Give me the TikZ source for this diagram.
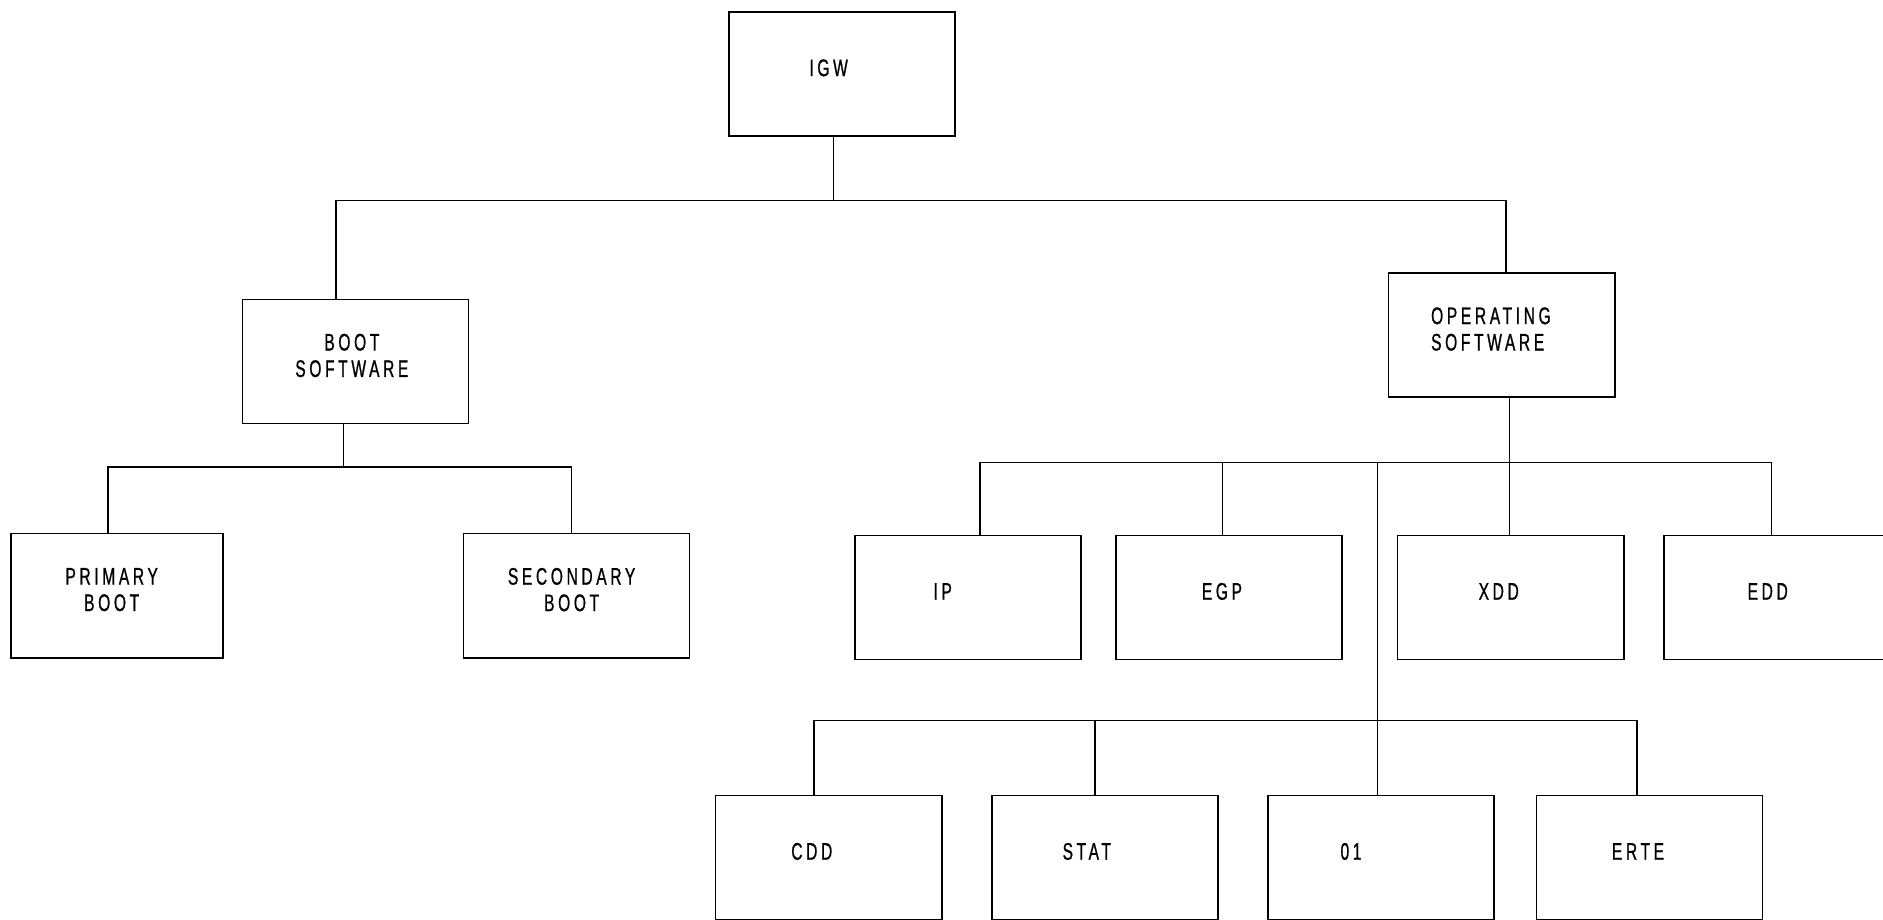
\documentclass[tikz,border=0pt]{standalone}
\usepackage{fontspec}
\newfontfamily\plotfont[FakeStretch=0.65,LetterSpace=15,FakeBold=0.8]{Liberation Sans}
\usetikzlibrary{positioning}

\begin{document}
\begin{tikzpicture}[
  x=0.6pt, y=-0.6pt,
  unit/.style={draw, rectangle, line width=0.8pt, minimum width=113pt, minimum height=62pt, inner sep=0pt},
  caption/.style={font=\plotfont\fontsize{12pt}{13.2pt}\selectfont, align=center, inner sep=0pt, yshift=3pt},
  tie/.style={line width=0.8pt}
]
\useasboundingbox (0,0) rectangle (1568,766);

% Top level
\node[unit, label={[caption, xshift=-6.6pt]center:IGW}] (igw) at (701,61.5) {};

% Second level
\node[unit, label={[caption, xshift=-1.8pt]center:BOOT\\SOFTWARE}] (bootsw) at (296,301) {};
\node[unit, label={[caption, align=left, xshift=-5.4pt]center:OPERATING\\SOFTWARE}] (opsw) at (1250.5,279) {};

% Boot branch
\node[unit, minimum width=106pt, label={[caption, xshift=-2.7pt]center:PRIMARY\\BOOT}] (primary) at (97.5,496) {};
\node[unit, label={[caption, xshift=-2.4pt]center:SECONDARY\\BOOT}] (secondary) at (480,496) {};

% Operating branch (upper row)
\node[unit, label={[caption, xshift=-12.6pt]center:IP}] (ip) at (806,497.5) {};
\node[unit, label={[caption, xshift=-3.6pt]center:EGP}] (egp) at (1023.5,497.5) {};
\node[unit, label={[caption, xshift=-6pt]center:XDD}] (xdd) at (1258,497.5) {};
\node[unit, label={[caption, xshift=-4.8pt]center:EDD}] (edd) at (1480,497.5) {};

% Operating branch (lower row)
\node[unit, label={[caption, xshift=-8.4pt]center:CDD}] (cdd) at (690,714) {};
\node[unit, label={[caption, xshift=-9pt]center:STAT}] (stat) at (920,714) {};
\node[unit, label={[caption, xshift=-15pt]center:01}] (oi) at (1150,714) {};
\node[unit, label={[caption, xshift=-5.7pt]center:ERTE}] (erte) at (1373.5,714) {};

% Bar junctions
\coordinate (topmid) at (694,167);
\coordinate (topleft) at (280,167);
\coordinate (topright) at (1254,167);
\coordinate (bootmid) at (286,389);
\coordinate (bootleft) at (90,389);
\coordinate (bootright) at (476,389);
\coordinate (osmid) at (1257,385);
\coordinate (osleft) at (816,385);
\coordinate (osright) at (1475,385);
\coordinate (osegp) at (1018,385);
\coordinate (osdrop) at (1147,385);
\coordinate (lowleft) at (678,600);
\coordinate (lowstat) at (912,600);
\coordinate (lowright) at (1363,600);

% IGW to software
\draw[tie] (igw.south -| topmid) -- (topmid);
\draw[tie] (bootsw.north -| topleft) -- (topleft) -- (topright) -- (opsw.north -| topright);

% Boot software to boots
\draw[tie] (bootsw.south -| bootmid) -- (bootmid);
\draw[tie] (primary.north -| bootleft) -- (bootleft) -- (bootright) -- (secondary.north -| bootright);

% Operating software to modules
\draw[tie] (opsw.south -| osmid) -- (xdd.north -| osmid);
\draw[tie] (ip.north -| osleft) -- (osleft) -- (osright) -- (edd.north -| osright);
\draw[tie] (egp.north -| osegp) -- (osegp);
\draw[tie] (osdrop) -- (oi.north -| osdrop);

% Lower row
\draw[tie] (cdd.north -| lowleft) -- (lowleft) -- (lowright) -- (erte.north -| lowright);
\draw[tie] (stat.north -| lowstat) -- (lowstat);

\end{tikzpicture}
\end{document}
